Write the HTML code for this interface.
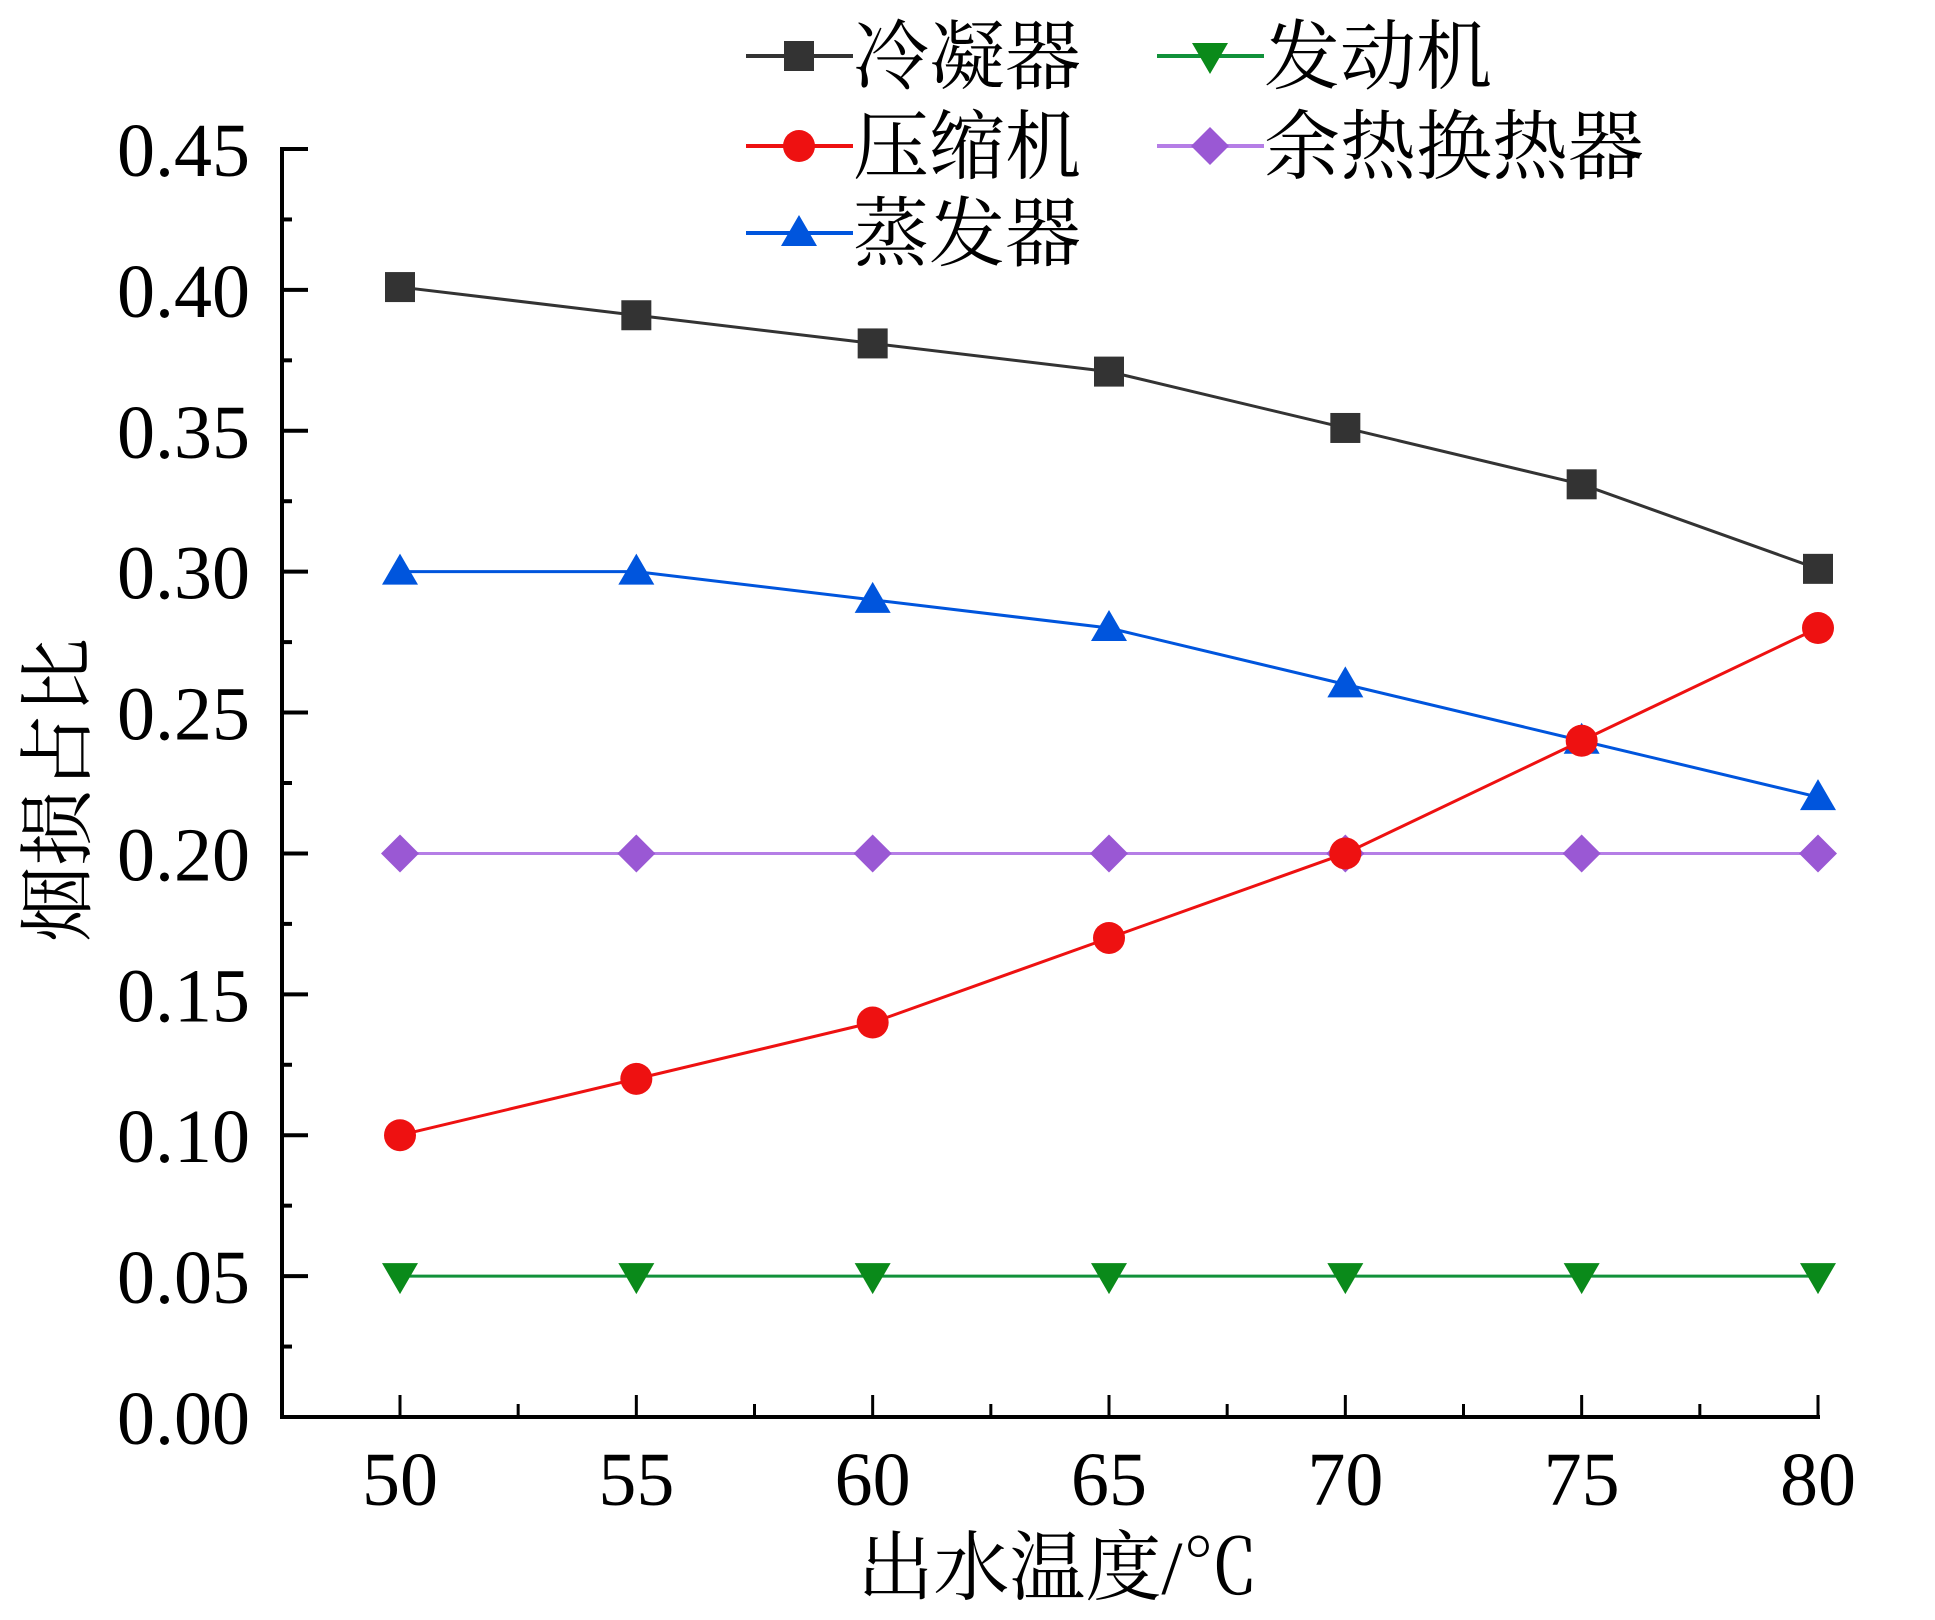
<!DOCTYPE html>
<html><head><meta charset="utf-8"><style>
html,body{margin:0;padding:0;background:#fff;}
svg{display:block;}
.t{font-family:"Liberation Serif","Noto Serif CJK SC",serif;fill:#000;}
.c{font-family:"Liberation Serif","Noto Serif CJK SC","Noto Sans CJK SC",serif;fill:#000;}
</style></head><body>
<svg id="chart" width="1935" height="1620" viewBox="0 0 1935 1620"></svg>
<script>
const xCats=[50,55,60,65,70,75,80];
const condenser=[0.401,0.391,0.381,0.371,0.351,0.331,0.301];
const compressor=[0.10,0.12,0.14,0.17,0.20,0.24,0.28];
const evaporator=[0.30,0.30,0.29,0.28,0.26,0.24,0.22];
const engine=[0.05,0.05,0.05,0.05,0.05,0.05,0.05];
const wasteHeat=[0.20,0.20,0.20,0.20,0.20,0.20,0.20];
const yTicks=["0.00","0.05","0.10","0.15","0.20","0.25","0.30","0.35","0.40","0.45"];
const xTicks=["50","55","60","65","70","75","80"];

const NS="http://www.w3.org/2000/svg";
const svg=document.getElementById('chart');
const L=282,B=1417,T=149,R=1820;
function X(v){return 400+(v-50)*(1818-400)/30;}
function Y(v){return B-(v/0.45)*(B-T);}
function mk(tag,attrs,parent){const e=document.createElementNS(NS,tag);for(const k in attrs)e.setAttribute(k,attrs[k]);(parent||svg).appendChild(e);return e;}

const ax=mk('g',{});


mk('line',{x1:L,y1:T-2,x2:L,y2:B+2,stroke:'#000','stroke-width':4},ax);
mk('line',{x1:L-2,y1:B,x2:R,y2:B,stroke:'#000','stroke-width':4},ax);
for(let i=0;i<yTicks.length;i++){
  const v=i*0.05,y=Y(v);
  mk('line',{x1:L,y1:y,x2:L+26,y2:y,stroke:'#000','stroke-width':4},ax);
  if(i<yTicks.length-1){const ym=Y(v+0.025);mk('line',{x1:L,y1:ym,x2:L+10,y2:ym,stroke:'#000','stroke-width':4},ax);}
  const t=mk('text',{x:250,y:y+27,'text-anchor':'end','font-size':76,class:'t'},ax);
  
  
  t.textContent=yTicks[i];
}
for(let i=0;i<xTicks.length;i++){
  const v=xCats[i],x=X(v);
  mk('line',{x1:x,y1:B,x2:x,y2:B-22,stroke:'#000','stroke-width':3},ax);
  if(i<xTicks.length-1){const xm=X(v+2.5);mk('line',{x1:xm,y1:B,x2:xm,y2:B-13,stroke:'#000','stroke-width':3},ax);}
  const t=mk('text',{x:x,y:1505,'text-anchor':'middle','font-size':76,class:'t'},ax);
  
  
  t.textContent=xTicks[i];
}
const xt=mk('text',{x:1058,y:1594,'text-anchor':'middle','font-size':76,class:'c'});


xt.textContent='出水温度/℃';
const yt=mk('text',{x:0,y:0,'text-anchor':'middle','font-size':76,class:'c',transform:'translate(84,790) rotate(-90)'});


yt.textContent='烟损占比';

function marker(g,shape,x,y,fill){
  const s=16;
  if(shape==='square')return mk('rect',{x:x-s+1,y:y-s+1,width:2*s-2,height:2*s-2,fill:fill},g);
  if(shape==='circle')return mk('circle',{cx:x,cy:y,r:s,fill:fill},g);
  if(shape==='up')return mk('polygon',{points:`${x},${y-s-2} ${x+s+2},${y+s-3} ${x-s-2},${y+s-3}`,fill:fill},g);
  if(shape==='down')return mk('polygon',{points:`${x},${y+s+2} ${x+s+2},${y-s+3} ${x-s-2},${y-s+3}`,fill:fill},g);
  if(shape==='diamond')return mk('polygon',{points:`${x},${y-s-3} ${x+s+3},${y} ${x},${y+s+3} ${x-s-3},${y}`,fill:fill},g);
}
const series=[
 {name:'condenser',data:condenser,line:'#333',fill:'#333',shape:'square'},
 {name:'evaporator',data:evaporator,line:'#0055dd',fill:'#0055dd',shape:'up'},
 {name:'waste-heat-exchanger',data:wasteHeat,line:'#b57ee6',fill:'#9a58d4',shape:'diamond'},
 {name:'compressor',data:compressor,line:'#ee1111',fill:'#ee1111',shape:'circle'},
 {name:'engine',data:engine,line:'#11913a',fill:'#0a8a1a',shape:'down'}
];
series.forEach(s=>{
  const g=mk('g',{});
  
  
  const pts=s.data.map((v,i)=>X(xCats[i])+','+Y(v)).join(' ');
  const pl=mk('polyline',{points:pts,fill:'none',stroke:s.line,'stroke-width':3},g);
  
  
  s.data.forEach((v,i)=>{
    const m=marker(g,s.shape,X(xCats[i]),Y(v),s.fill);
    
    
  });
});
const legend=[
 {label:'冷凝器',s:series[0],x:746,y:56},
 {label:'压缩机',s:series[3],x:746,y:146},
 {label:'蒸发器',s:series[1],x:746,y:233},
 {label:'发动机',s:series[4],x:1157,y:56},
 {label:'余热换热器',s:series[2],x:1157,y:146}
];
legend.forEach(e=>{
  const g=mk('g',{});
  
  
  mk('line',{x1:e.x,y1:e.y,x2:e.x+107,y2:e.y,stroke:e.s.line,'stroke-width':4},g);
  marker(g,e.s.shape,e.x+53,e.y,e.s.fill);
  const t=mk('text',{x:e.x+107,y:e.y+27,'font-size':76,class:'c'},g);
  t.textContent=e.label;
});
</script>
</body></html>
